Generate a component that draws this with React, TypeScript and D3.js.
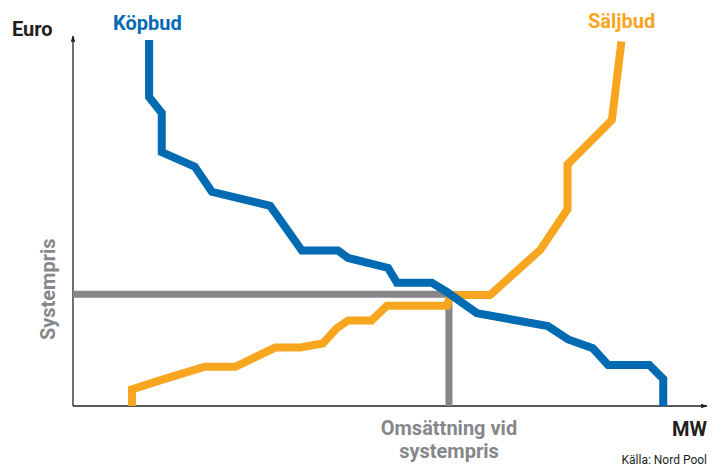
import React from "react";
import * as d3 from "d3";

// Buy (Köpbud) and sell (Säljbud) bid curves: volume (MW, 0–100) vs price (Euro, 0–100)
const buyMW = [12.0, 12.0, 14.0, 14.0, 19.2, 21.9, 31.1, 36.1, 41.8, 43.4, 49.7, 51.1, 56.6, 58.9, 63.7, 74.9, 78.1, 82.0, 84.4, 90.9, 93.1, 93.1];
const buyEuro = [98.9, 83.5, 79.2, 68.6, 64.7, 57.9, 54.1, 42.0, 42.0, 40.0, 37.3, 33.3, 33.3, 30.9, 25.1, 21.6, 18.0, 15.6, 11.1, 11.1, 7.3, 0];

const sellMW = [9.3, 9.3, 14.2, 20.8, 25.6, 31.9, 35.8, 39.4, 41.6, 43.4, 47.1, 49.5, 59.0, 59.5, 65.8, 73.7, 78.0, 78.0, 85.0, 86.5];
const sellEuro = [0, 4.5, 7.2, 10.6, 10.6, 15.8, 15.8, 16.9, 21.0, 23.1, 23.1, 27.1, 27.1, 30.0, 30.0, 42.2, 53.2, 65.3, 77.3, 98.5];

// Market clearing point
const systemPrice = [30.2];
const clearedVolume = [59.3];

const labels = {
  yAxis: "Euro",
  xAxis: "MW",
  buy: "Köpbud",
  sell: "Säljbud",
  price: "Systempris",
  volume: ["Omsättning vid", "systempris"],
  source: "Källa: Nord Pool",
};

const BLUE = "#006AB3";
const ORANGE = "#F8A61F";
const GRAY = "#86878A";
const FONT = "Roboto, 'Liberation Sans', Arial, sans-serif";

export default function App() {
  const width = 722;
  const height = 466;
  const x = d3.scaleLinear().domain([0, 100]).range([73, 707]);
  const y = d3.scaleLinear().domain([0, 100]).range([406, 36]);

  const line = d3
    .line<[number, number]>()
    .x((d) => x(d[0]))
    .y((d) => y(d[1]));

  const buy = buyMW.map((m, i) => [m, buyEuro[i]] as [number, number]);
  const sell = sellMW.map((m, i) => [m, sellEuro[i]] as [number, number]);
  const priceLine: [number, number][] = [
    [0, systemPrice[0]],
    [clearedVolume[0], systemPrice[0]],
    [clearedVolume[0], 0],
  ];

  const [x0, x1] = x.range();
  const [y0, y1] = y.range();

  return (
    <svg
      width={width}
      height={height}
      style={{ position: "absolute", left: 0, top: 0, background: "#fff" }}
      fontFamily={FONT}
    >
      <defs>
        <marker id="arrow" viewBox="0 0 10 10" refX="9" refY="5" markerWidth="5" markerHeight="5" orient="auto">
          <path d="M0,1.5 L10,5 L0,8.5 Z" fill="#231f20" />
        </marker>
      </defs>

      {/* axes */}
      <line x1={x0} y1={y0} x2={x0} y2={y1} stroke="#231f20" strokeWidth={1.3} markerEnd="url(#arrow)" />
      <line x1={x0} y1={y0} x2={x1} y2={y0} stroke="#231f20" strokeWidth={1.3} markerEnd="url(#arrow)" />

      {/* clearing price / volume */}
      <path d={line(priceLine) ?? ""} fill="none" stroke={GRAY} strokeWidth={7} strokeLinejoin="miter" />

      {/* bid curves */}
      <path d={line(sell) ?? ""} fill="none" stroke={ORANGE} strokeWidth={8} strokeLinejoin="miter" />
      <path d={line(buy) ?? ""} fill="none" stroke={BLUE} strokeWidth={8} strokeLinejoin="miter" />

      {/* labels */}
      <text x={12} y={36} fontSize={20} fontWeight={700} fill="#231f20">{labels.yAxis}</text>
      <text x={113} y={30} fontSize={20} fontWeight={700} fill={BLUE}>{labels.buy}</text>
      <text x={588} y={28} fontSize={20} fontWeight={700} fill={ORANGE}>{labels.sell}</text>
      <text x={707} y={436} fontSize={20} fontWeight={700} fill="#231f20" textAnchor="end">{labels.xAxis}</text>
      <text
        transform={`translate(55, ${y(systemPrice[0]) - 5}) rotate(-90)`}
        fontSize={20}
        fontWeight={700}
        fill={GRAY}
        textAnchor="middle"
      >
        {labels.price}
      </text>
      <text x={x(clearedVolume[0])} y={435} fontSize={20} fontWeight={700} fill={GRAY} textAnchor="middle">
        {labels.volume[0]}
      </text>
      <text x={x(clearedVolume[0])} y={458} fontSize={20} fontWeight={700} fill={GRAY} textAnchor="middle">
        {labels.volume[1]}
      </text>
      <text x={707} y={464} fontSize={12} fill="#231f20" textAnchor="end">{labels.source}</text>
    </svg>
  );
}
